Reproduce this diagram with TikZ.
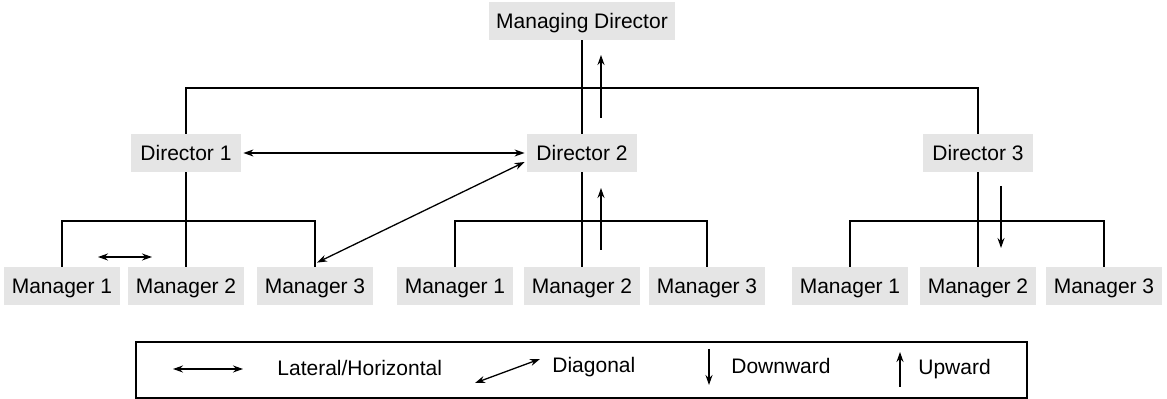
\documentclass[tikz,border=0pt]{standalone}
\usepackage{fontspec}
\setmainfont{Liberation Sans}
\usetikzlibrary{arrows.meta}

\tikzset{
  post/.style={fill=black!10, minimum width=55pt, minimum height=19pt, inner xsep=3.75pt,
    text height=0.72em, text depth=0pt, font=\fontsize{10.5}{12}\selectfont},
  legendtext/.style={anchor=base west, inner sep=0pt, font=\fontsize{10.5}{12}\selectfont},
  link/.style={line width=0.65pt},
  flow/.style={line width=0.65pt, -{Stealth[length=5pt,width=3.5pt]}},
  both/.style={line width=0.65pt, {Stealth[length=5pt,width=3.5pt]}-{Stealth[length=5pt,width=3.5pt]}},
}

\begin{document}
\begin{tikzpicture}[x=0.5pt, y=-0.5pt]
\useasboundingbox (0,0) rectangle (1167,399);

% top and directors
\node[post] (md) at (582,21) {Managing Director};
\node[post] (d1) at (186,153) {Director 1};
\node[post] (d2) at (582,153) {Director 2};
\node[post] (d3) at (978,153) {Director 3};

% managers
\node[post] (m11) at (62,286) {Manager 1};
\node[post] (m12) at (186,286) {Manager 2};
\node[post] (m13) at (315,286) {Manager 3};
\node[post] (m21) at (455,286) {Manager 1};
\node[post] (m22) at (582,286) {Manager 2};
\node[post] (m23) at (707,286) {Manager 3};
\node[post] (m31) at (850,286) {Manager 1};
\node[post] (m32) at (978,286) {Manager 2};
\node[post] (m33) at (1104,286) {Manager 3};

% tree lines
\coordinate (top) at (582,88);
\coordinate (b1) at (186,221);
\coordinate (b2) at (582,221);
\coordinate (b3) at (978,221);
\draw[link] (md) -- (d2);
\draw[link] (d1.north) |- (top) -| (d3.north);
\draw[link] (d1) -- (m12);
\draw[link] (d2) -- (m22);
\draw[link] (d3) -- (m32);
\draw[link] (m11.north) |- (b1) -| (m13.north);
\draw[link] (m21.north) |- (b2) -| (m23.north);
\draw[link] (m31.north) |- (b3) -| (m33.north);

% communication arrows
\coordinate (lat1) at (98,257);
\coordinate (lat2) at (152,257);
\draw[both] (lat1) -- (lat2);
\draw[both, shorten <=1pt, shorten >=1pt] (d1) -- (d2);
\draw[both] ([xshift=1pt,yshift=2pt]m13.north) -- ([xshift=-1pt,yshift=-4.5pt]d2.west);
\coordinate (up1) at (601,118);
\coordinate (up2) at (601,55);
\draw[flow] (up1) -- (up2);
\coordinate (up3) at (601,250);
\coordinate (up4) at (601,188);
\draw[flow] (up3) -- (up4);
\coordinate (dn1) at (1001,186);
\coordinate (dn2) at (1001,248);
\draw[flow] (dn1) -- (dn2);

% legend
\draw[link] (136,342) rectangle (1027,398);
\coordinate (k1) at (173,369);
\coordinate (k2) at (243,369);
\draw[both] (k1) -- (k2);
\node[legendtext] (klat) at (277,376) {Lateral/Horizontal};
\coordinate (k3) at (475,383);
\coordinate (k4) at (540,359);
\draw[both] (k3) -- (k4);
\node[legendtext] (kdia) at (552,373) {Diagonal};
\coordinate (k5) at (709,349);
\coordinate (k6) at (709,385);
\draw[flow] (k5) -- (k6);
\node[legendtext] (kdown) at (731,374) {Downward};
\coordinate (k7) at (900,387);
\coordinate (k8) at (900,352);
\draw[flow] (k7) -- (k8);
\node[legendtext] (kup) at (918,375) {Upward};
\end{tikzpicture}
\end{document}
